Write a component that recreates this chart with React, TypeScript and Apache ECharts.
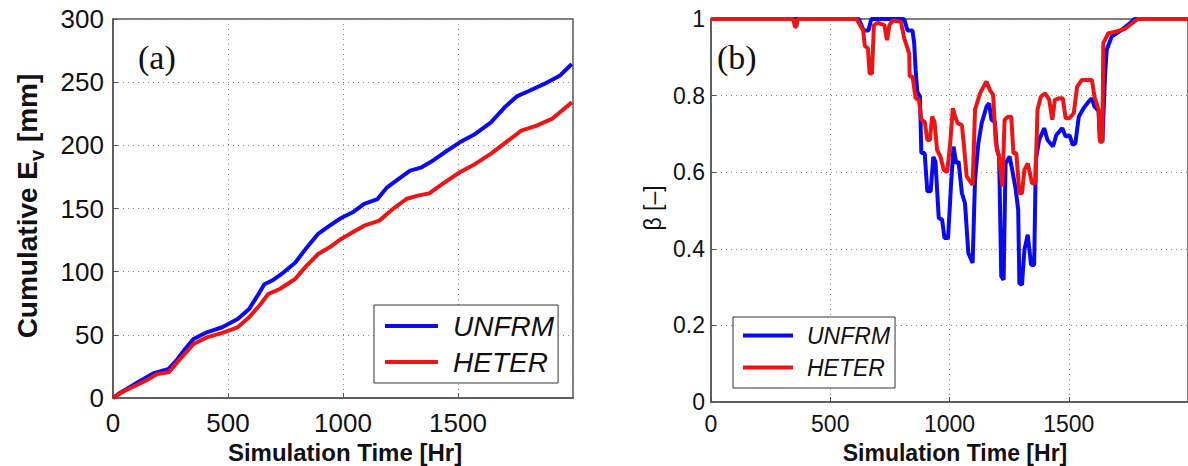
import React, { useEffect, useRef } from "react";
import * as echarts from "echarts";

const FONT = "'Liberation Sans', Arial, Helvetica, sans-serif";
const SERIF = "'Liberation Serif', 'Times New Roman', serif";
const BLUE = "#0a0af0";
const RED = "#ec1414";

// Panel (a): cumulative Ev [mm] vs simulation time [Hr]
const tUnfrmA = [0, 30, 58, 108, 175, 242, 275, 308, 350, 408, 475, 542, 592, 625, 658, 692, 742, 792, 842, 892, 942, 992, 1042, 1092, 1150, 1192, 1242, 1292, 1342, 1392, 1442, 1508, 1575, 1642, 1708, 1758, 1808, 1875, 1942, 1995];
const evUnfrm = [0, 4, 7, 12.4, 19.5, 23, 29.5, 37.5, 46.7, 52, 56, 62.5, 70.5, 80, 90, 93, 99.5, 107, 119, 130, 136.5, 142.5, 147, 153.6, 157.5, 166.8, 173.4, 180, 182.6, 188, 194.5, 202.4, 209, 218, 231, 239, 243, 248.6, 255, 264.4];
const tHeterA = [0, 30, 58, 142, 192, 242, 292, 350, 408, 475, 542, 592, 642, 675, 725, 792, 842, 892, 942, 992, 1042, 1092, 1158, 1208, 1275, 1325, 1375, 1442, 1508, 1575, 1642, 1708, 1775, 1842, 1908, 1995];
const evHeter = [0, 3.5, 6.3, 13.7, 19, 20.3, 31, 42.7, 48, 51.5, 56, 63.9, 74.4, 82.3, 86.3, 94.2, 104.8, 114, 119.3, 125.9, 131.2, 136.4, 140.4, 148.3, 157.5, 160.2, 162, 170.7, 178.7, 185.3, 193.2, 202.4, 211.6, 215.6, 220.9, 234];

// Panel (b): beta [-] vs simulation time [Hr]
const tUnfrmB = [0, 620, 630, 640, 660, 672, 810, 824, 845, 852, 858, 865, 876, 882, 896, 907, 921, 932, 941, 955, 969, 979, 994, 1006, 1017, 1028, 1038, 1052, 1065, 1079, 1097, 1107, 1121, 1135, 1155, 1166, 1176, 1190, 1199, 1208, 1217, 1227, 1235, 1252, 1263, 1277, 1288, 1293, 1304, 1314, 1328, 1342, 1355, 1362, 1376, 1397, 1411, 1434, 1448, 1473, 1487, 1503, 1517, 1528, 1542, 1562, 1583, 1597, 1608, 1625, 1631, 1641, 1652, 1659, 1680, 1721, 1756, 1776, 2000];
const betaUnfrm = [1, 1, 0.985, 0.97, 0.97, 1, 1, 0.97, 0.97, 0.936, 0.867, 0.81, 0.797, 0.65, 0.65, 0.55, 0.55, 0.64, 0.628, 0.48, 0.476, 0.428, 0.428, 0.563, 0.667, 0.623, 0.628, 0.545, 0.519, 0.389, 0.363, 0.58, 0.676, 0.728, 0.771, 0.78, 0.737, 0.732, 0.658, 0.641, 0.328, 0.319, 0.623, 0.641, 0.606, 0.558, 0.502, 0.31, 0.306, 0.397, 0.437, 0.358, 0.358, 0.632, 0.684, 0.715, 0.684, 0.667, 0.697, 0.715, 0.693, 0.697, 0.671, 0.676, 0.745, 0.767, 0.784, 0.793, 0.771, 0.76, 0.68, 0.68, 0.85, 0.919, 0.954, 0.971, 0.989, 1, 1];
const tHeterB = [0, 345, 352, 358, 364, 612, 617, 638, 645, 658, 665, 675, 683, 700, 727, 738, 748, 762, 796, 810, 831, 833, 845, 858, 872, 882, 896, 907, 918, 927, 937, 948, 962, 976, 990, 1003, 1014, 1024, 1034, 1052, 1061, 1072, 1097, 1107, 1128, 1155, 1169, 1183, 1194, 1208, 1222, 1231, 1245, 1259, 1268, 1280, 1293, 1304, 1314, 1328, 1346, 1360, 1369, 1383, 1401, 1418, 1431, 1442, 1459, 1475, 1487, 1503, 1521, 1535, 1555, 1597, 1608, 1625, 1631, 1641, 1645, 1666, 1693, 1735, 1762, 1790, 2000];
const betaHeter = [1, 1, 0.98, 0.98, 1, 1, 0.993, 0.97, 0.93, 0.923, 0.858, 0.858, 0.984, 0.99, 0.984, 0.945, 0.984, 0.996, 0.993, 0.95, 0.91, 0.85, 0.85, 0.793, 0.789, 0.737, 0.732, 0.684, 0.684, 0.745, 0.732, 0.658, 0.641, 0.606, 0.6, 0.676, 0.767, 0.745, 0.728, 0.723, 0.667, 0.589, 0.567, 0.763, 0.806, 0.837, 0.815, 0.802, 0.676, 0.641, 0.563, 0.737, 0.745, 0.745, 0.65, 0.65, 0.545, 0.545, 0.606, 0.623, 0.571, 0.571, 0.763, 0.797, 0.806, 0.789, 0.737, 0.789, 0.793, 0.793, 0.741, 0.741, 0.754, 0.823, 0.841, 0.841, 0.797, 0.763, 0.68, 0.68, 0.937, 0.963, 0.966, 0.974, 0.987, 1, 1];

const seriesNames = ["UNFRM", "HETER"];

const zip = (xs: number[], ys: number[]) => xs.map((x, i) => [x, ys[i]]);
const plain = (v: number) => String(v);

function xAxisFor(gridIndex: number, fontSize: number, margin: number) {
  return {
    type: "value",
    gridIndex,
    min: 0,
    max: 2000,
    interval: 500,
    axisLine: { show: true, onZero: false, lineStyle: { color: "#555", width: 1.5 } },
    axisTick: { show: true, inside: true, length: 5, lineStyle: { color: "#555" } },
    axisLabel: { fontSize, color: "#111", margin, showMaxLabel: false, fontFamily: FONT, formatter: plain },
    splitLine: { show: true, lineStyle: { type: [1, 4], color: "#8a8a8a", width: 1 } },
  };
}

function yAxisFor(gridIndex: number, max: number, interval: number, fontSize: number, margin: number) {
  return {
    type: "value",
    gridIndex,
    min: 0,
    max,
    interval,
    axisLine: { show: true, onZero: false, lineStyle: { color: "#555", width: 1.5 } },
    axisTick: { show: true, inside: true, length: 5, lineStyle: { color: "#555" } },
    axisLabel: { fontSize, color: "#111", margin, fontFamily: FONT, formatter: plain },
    splitLine: { show: true, lineStyle: { type: [1, 4], color: "#8a8a8a", width: 1 } },
  };
}

function lineSeries(name: string, color: string, x: number, data: number[][]) {
  return {
    type: "line",
    name,
    xAxisIndex: x,
    yAxisIndex: x,
    data,
    showSymbol: false,
    symbol: "none",
    color,
    lineStyle: { color, width: 4 },
    clip: false,
  };
}

export default function App() {
  const ref = useRef<HTMLDivElement>(null);
  useEffect(() => {
    if (!ref.current) return;
    const chart = echarts.init(ref.current, undefined, { renderer: "svg" });
    chart.setOption({
      animation: false,
      backgroundColor: "#ffffff",
      grid: [
        { left: 113, top: 19, width: 460, height: 379, show: true, borderColor: "#555", borderWidth: 1.5, backgroundColor: "transparent" },
        { left: 711, top: 19, width: 483, height: 383, show: true, borderColor: "#555", borderWidth: 1.5, backgroundColor: "transparent" },
      ],
      xAxis: [xAxisFor(0, 26, 12), xAxisFor(1, 23, 10)],
      yAxis: [yAxisFor(0, 300, 50, 26, 9), yAxisFor(1, 1, 0.2, 23, 6)],
      legend: [
        {
          data: seriesNames,
          orient: "vertical",
          left: 374,
          top: 305,
          padding: [6, 4, 6, 11],
          itemGap: 6,
          itemWidth: 53,
          itemHeight: 4,
          icon: "rect",
          selectedMode: false,
          borderColor: "#333",
          borderWidth: 1,
          backgroundColor: "#fff",
          textStyle: { fontSize: 28, lineHeight: 30, fontStyle: "italic", color: "#111", fontFamily: FONT, padding: [0, 0, 0, 10] },
        },
        {
          data: seriesNames,
          orient: "vertical",
          left: 733,
          top: 317,
          padding: [6, 5, 8, 10],
          itemGap: 7,
          itemWidth: 50,
          itemHeight: 4,
          icon: "rect",
          selectedMode: false,
          borderColor: "#333",
          borderWidth: 1,
          backgroundColor: "#fff",
          textStyle: { fontSize: 23, lineHeight: 25, fontStyle: "italic", color: "#111", fontFamily: FONT, padding: [0, 0, 0, 9] },
        },
      ],
      series: [
        lineSeries(seriesNames[0], BLUE, 0, zip(tUnfrmA, evUnfrm)),
        lineSeries(seriesNames[1], RED, 0, zip(tHeterA, evHeter)),
        lineSeries(seriesNames[0], BLUE, 1, zip(tUnfrmB, betaUnfrm)),
        lineSeries(seriesNames[1], RED, 1, zip(tHeterB, betaHeter)),
      ],
      graphic: [
        { type: "text", x: 138, y: 57, style: { text: "(a)", font: `34px ${SERIF}`, fill: "#111", textAlign: "left", textVerticalAlign: "middle" } },
        { type: "text", x: 717, y: 57, style: { text: "(b)", font: `34px ${SERIF}`, fill: "#111", textAlign: "left", textVerticalAlign: "middle" } },
        {
          type: "text",
          x: 27,
          y: 206,
          rotation: Math.PI / 2,
          style: {
            text: "{m|Cumulative E}{s|v}{m| [mm]}",
            align: "center",
            verticalAlign: "middle",
            rich: {
              m: { fontSize: 28, fontWeight: "bold", fontFamily: FONT, fill: "#111", lineHeight: 28 },
              s: { fontSize: 20, fontWeight: "bold", fontFamily: FONT, fill: "#111", lineHeight: 20, padding: [20, 0, 0, 0] },
            },
          },
        },
        { type: "text", x: 345, y: 452, style: { text: "Simulation Time [Hr]", font: `bold 24px ${FONT}`, fill: "#111", textAlign: "center", textVerticalAlign: "middle" } },
        { type: "text", x: 955, y: 453, style: { text: "Simulation Time [Hr]", font: `bold 23px ${FONT}`, fill: "#111", textAlign: "center", textVerticalAlign: "middle" } },
        { type: "text", x: 653, y: 208, rotation: Math.PI / 2, style: { text: "β [–]", font: `23px ${FONT}`, fill: "#111", textAlign: "center", textVerticalAlign: "middle" } },
      ],
    });
    return () => chart.dispose();
  }, []);
  return <div ref={ref} style={{ position: "absolute", left: 0, top: 0, width: 1188, height: 466 }} />;
}
